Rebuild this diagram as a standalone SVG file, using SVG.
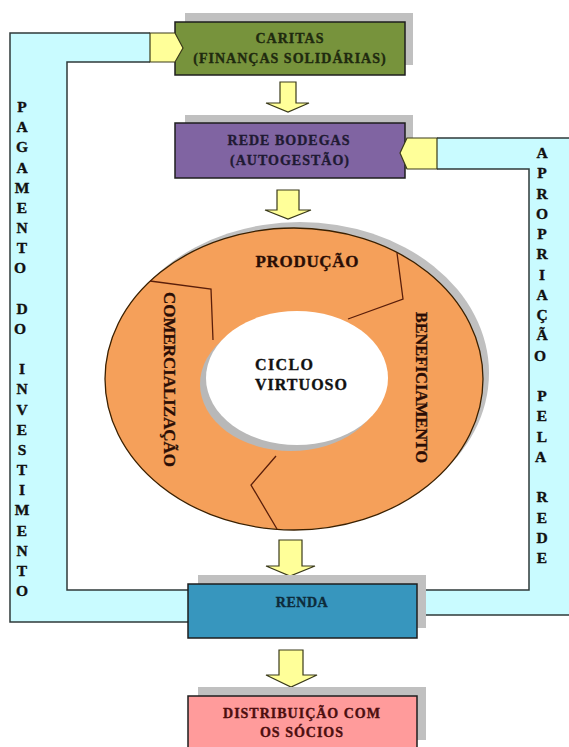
<svg xmlns="http://www.w3.org/2000/svg" width="569" height="747" viewBox="0 0 569 747">
<style>
  .t { font-family: "Liberation Serif", "Times New Roman", serif; font-weight: bold; stroke-width: 0.35; }
  .box { stroke: #1e1e1e; stroke-width: 1.5; }
  .shadow { fill: #c0c0c0; }
  .band { fill: #c9fbff; stroke: none; }
  .bandline { fill: none; stroke: #2f3a3a; stroke-width: 1.5; }
  .arrow { fill: #ffff99; stroke: #3a3a1a; stroke-width: 1.2; stroke-linejoin: miter; }
  .div { fill: none; stroke: #5a1e0a; stroke-width: 1.3; }
  .vl { font-size: 15.5px; fill: #111; stroke: #111; text-anchor: middle; }
</style>
<rect width="569" height="747" fill="#ffffff"/>

<g id="ciclo">
  <ellipse cx="300" cy="373" rx="189" ry="151" fill="#c0c0c0"/>
  <ellipse cx="294" cy="379" rx="189" ry="151" fill="#f5a05a" stroke="#3a2000" stroke-width="1.3"/>
  <ellipse cx="291" cy="384" rx="91" ry="67" fill="#b8b8b8"/>
  <ellipse cx="297" cy="378" rx="91" ry="67" fill="#ffffff"/>
  <polyline class="div" points="150,281 211,289 213,340"/>
  <polyline class="div" points="397,253 403,299 348,319"/>
  <polyline class="div" points="276,456 251,485 277,529"/>
  <text class="t" x="307" y="267" font-size="17" fill="#2a0d05" stroke="#2a0d05" text-anchor="middle" textLength="103" lengthAdjust="spacing">PRODUÇÃO</text>
  <text class="t" transform="translate(164,292) rotate(90)" font-size="17" fill="#2a0d05" stroke="#2a0d05" textLength="175" lengthAdjust="spacingAndGlyphs">COMERCIALIZAÇÃO</text>
  <text class="t" transform="translate(416,312) rotate(90)" font-size="17" fill="#2a0d05" stroke="#2a0d05" textLength="151" lengthAdjust="spacingAndGlyphs">BENEFICIAMENTO</text>
  <text class="t" x="255" y="370" font-size="16" fill="#111" stroke="#111" textLength="58" lengthAdjust="spacing">CICLO</text>
  <text class="t" x="255" y="390" font-size="16" fill="#111" stroke="#111" textLength="92" lengthAdjust="spacing">VIRTUOSO</text>
</g>

<g id="connectors">
  <path class="band" d="M188,622 L10,622 L10,33 L150,33 L150,62 L67,62 L67,590 L188,590 Z"/>
  <path class="bandline" d="M188,622 L10,622 L10,33 L150,33 M150,62 L67,62 L67,590 L188,590"/>
  <path class="band" d="M426,590 L529,590 L529,169 L437,169 L437,138 L575,138 L575,615 L426,615 Z"/>
  <path class="bandline" d="M437,138 L575,138 M437,169 L529,169 L529,590 L417,590 M417,615 L575,615"/>
  <polygon class="arrow" points="280,82 296,82 296,103 309,103 288,112 266,103 280,103"/>
  <polygon class="arrow" points="277,190 299,190 299,210 311,210 288,219 265,210 277,210"/>
  <polygon class="arrow" points="279,540 302,540 302,566 315,566 290,576 266,566 279,566"/>
  <polygon class="arrow" points="279,650 303,650 303,675 317,675 291,687 266,675 279,675"/>
</g>

<g id="caritas">
  <rect class="shadow" x="185" y="13" width="228" height="52"/>
  <rect class="box" x="175" y="22" width="230" height="53" fill="#77933c"/>
  <text class="t" x="290" y="43" font-size="14" fill="#1f2a0f" stroke="#1f2a0f" text-anchor="middle" letter-spacing="1">CARITAS</text>
  <text class="t" x="290" y="63" font-size="14" fill="#1f2a0f" stroke="#1f2a0f" text-anchor="middle" letter-spacing="1">(FINANÇAS SOLIDÁRIAS)</text>
</g>

<g id="rede-bodegas">
  <rect class="shadow" x="185" y="115" width="228" height="54"/>
  <rect class="box" x="175" y="123" width="230" height="55" fill="#8064a2"/>
  <text class="t" x="289" y="145" font-size="14" fill="#1f1a33" stroke="#1f1a33" text-anchor="middle" letter-spacing="1">REDE BODEGAS</text>
  <text class="t" x="290" y="165" font-size="14" fill="#1f1a33" stroke="#1f1a33" text-anchor="middle" letter-spacing="1">(AUTOGESTÃO)</text>
</g>

<g id="renda">
  <rect class="shadow" x="198" y="575" width="228" height="53"/>
  <rect class="box" x="188" y="584" width="229" height="54" fill="#3796be"/>
  <text class="t" x="302" y="607" font-size="14" fill="#0d2b3a" stroke="#0d2b3a" text-anchor="middle" letter-spacing="0.5">RENDA</text>
</g>

<g id="distribuicao">
  <rect class="shadow" x="198" y="687" width="228" height="53"/>
  <rect class="box" x="188" y="696" width="229" height="60" fill="#ff9b9b"/>
  <text class="t" x="302" y="718" font-size="14" fill="#4d0f0f" stroke="#4d0f0f" text-anchor="middle" letter-spacing="1">DISTRIBUIÇÃO COM</text>
  <text class="t" x="302" y="737" font-size="14" fill="#4d0f0f" stroke="#4d0f0f" text-anchor="middle" letter-spacing="1">OS SÓCIOS</text>
</g>

<g id="side-arrows">
  <polygon class="arrow" points="150,33 175,33 183,48 175,62 150,62"/>
  <polygon class="arrow" points="437,138 407,138 400,153 407,169 437,169"/>
</g>

<g id="label-pagamento">
  <text class="t vl">
    <tspan x="22" y="112">P</tspan><tspan x="22" y="132.2">A</tspan><tspan x="22" y="152.3">G</tspan><tspan x="22" y="172.5">A</tspan><tspan x="22" y="192.7">M</tspan><tspan x="22" y="212.9">E</tspan><tspan x="22" y="233">N</tspan><tspan x="22" y="253.2">T</tspan><tspan x="22" y="273.4">O</tspan>
    <tspan x="22" y="313.7">D</tspan><tspan x="22" y="333.9">O</tspan>
    <tspan x="22" y="374.2">I</tspan><tspan x="22" y="394.4">N</tspan><tspan x="22" y="414.6">V</tspan><tspan x="22" y="434.7">E</tspan><tspan x="22" y="454.9">S</tspan><tspan x="22" y="475.1">T</tspan><tspan x="22" y="495.2">I</tspan><tspan x="22" y="515.4">M</tspan><tspan x="22" y="535.6">E</tspan><tspan x="22" y="555.7">N</tspan><tspan x="22" y="575.9">T</tspan><tspan x="22" y="596.1">O</tspan>
  </text>
</g>

<g id="label-apropriacao">
  <text class="t vl">
    <tspan x="542" y="158">A</tspan><tspan x="542" y="178.3">P</tspan><tspan x="542" y="198.5">R</tspan><tspan x="542" y="218.8">O</tspan><tspan x="542" y="239">P</tspan><tspan x="542" y="259.3">R</tspan><tspan x="542" y="279.5">I</tspan><tspan x="542" y="299.8">A</tspan><tspan x="542" y="320">Ç</tspan><tspan x="542" y="340.3">Ã</tspan><tspan x="542" y="360.5">O</tspan>
    <tspan x="542" y="401">P</tspan><tspan x="542" y="421.3">E</tspan><tspan x="542" y="441.5">L</tspan><tspan x="542" y="461.8">A</tspan>
    <tspan x="542" y="502.3">R</tspan><tspan x="542" y="522.5">E</tspan><tspan x="542" y="542.8">D</tspan><tspan x="542" y="563">E</tspan>
  </text>
</g>
</svg>
